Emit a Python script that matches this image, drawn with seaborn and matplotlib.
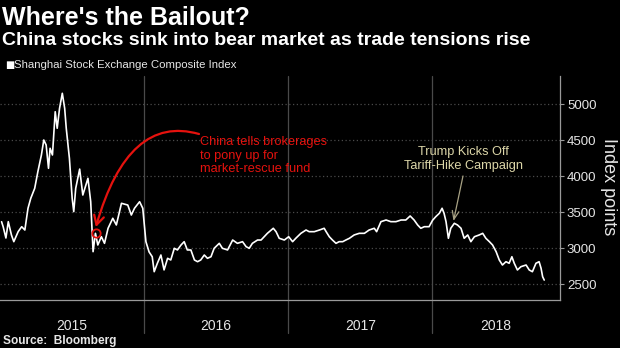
import matplotlib
matplotlib.use("Agg")
import matplotlib.pyplot as plt
import seaborn as sns
import pandas as pd

# ---------------- data ----------------
dates = [
    "2015-01-05", "2015-01-09", "2015-01-16", "2015-01-22", "2015-01-30", "2015-02-05",
    "2015-02-16", "2015-02-25", "2015-03-05", "2015-03-13", "2015-03-20", "2015-03-30",
    "2015-04-07", "2015-04-16", "2015-04-22", "2015-04-28", "2015-05-04", "2015-05-08",
    "2015-05-14", "2015-05-21", "2015-05-26", "2015-06-01", "2015-06-08", "2015-06-14",
    "2015-06-18", "2015-06-26", "2015-07-03", "2015-07-07", "2015-07-12", "2015-07-22",
    "2015-07-30", "2015-08-12", "2015-08-19", "2015-08-25", "2015-08-31", "2015-09-06",
    "2015-09-15", "2015-09-23", "2015-10-02", "2015-10-14", "2015-10-23", "2015-11-05",
    "2015-11-21", "2015-11-30", "2015-12-08", "2015-12-21", "2015-12-29", "2016-01-06",
    "2016-01-14", "2016-01-22", "2016-01-27", "2016-02-04", "2016-02-13", "2016-02-21",
    "2016-03-01", "2016-03-09", "2016-03-18", "2016-03-26", "2016-04-04", "2016-04-12",
    "2016-04-20", "2016-04-29", "2016-05-08", "2016-05-16", "2016-05-24", "2016-06-02",
    "2016-06-10", "2016-06-19", "2016-06-27", "2016-07-10", "2016-07-18", "2016-07-31",
    "2016-08-13", "2016-08-25", "2016-09-07", "2016-09-16", "2016-09-24", "2016-10-02",
    "2016-10-15", "2016-10-24", "2016-11-01", "2016-11-09", "2016-11-24", "2016-12-01",
    "2016-12-09", "2016-12-22", "2017-01-02", "2017-01-12", "2017-01-20", "2017-02-02",
    "2017-02-15", "2017-02-23", "2017-03-08", "2017-03-21", "2017-04-02", "2017-04-07",
    "2017-04-15", "2017-04-23", "2017-05-02", "2017-05-10", "2017-05-19", "2017-05-27",
    "2017-06-05", "2017-06-17", "2017-06-30", "2017-07-13", "2017-07-25", "2017-08-07",
    "2017-08-13", "2017-08-24", "2017-09-06", "2017-09-18", "2017-10-01", "2017-10-14",
    "2017-10-26", "2017-11-06", "2017-11-16", "2017-11-25", "2017-12-03", "2017-12-12",
    "2017-12-24", "2018-01-02", "2018-01-10", "2018-01-19", "2018-01-26", "2018-01-31",
    "2018-02-05", "2018-02-11", "2018-02-17", "2018-02-26", "2018-03-06", "2018-03-15",
    "2018-03-23", "2018-04-01", "2018-04-09", "2018-04-18", "2018-04-30", "2018-05-09",
    "2018-05-17", "2018-05-26", "2018-06-03", "2018-06-12", "2018-06-20", "2018-06-28",
    "2018-07-07", "2018-07-15", "2018-07-22", "2018-07-28", "2018-08-05", "2018-08-14",
    "2018-08-27", "2018-09-04", "2018-09-12", "2018-09-21", "2018-09-29", "2018-10-04",
    "2018-10-08", "2018-10-12",
]
values = [
    3369, 3300, 3143, 3370, 3185, 3092,
    3231, 3300, 3254, 3556, 3694, 3833,
    4064, 4296, 4504, 4435, 4111, 4389,
    4296, 4897, 4667, 4944, 5153, 4944,
    4667, 4250, 3694, 3509, 3833, 4100,
    3740, 3972, 3647, 2953, 3208, 3046,
    3162, 3069, 3278, 3417, 3324, 3625,
    3601, 3462, 3556, 3647, 3556, 3092,
    2950, 2883, 2675, 2792, 2907, 2700,
    2861, 2838, 3000, 2977, 3046, 3092,
    2977, 2977, 2838, 2814, 2838, 2907,
    2861, 2883, 3000, 3069, 3000, 2977,
    3115, 3069, 3092, 3023, 3000, 3069,
    3115, 3115, 3161, 3208, 3278, 3231,
    3139, 3115, 3161, 3092, 3139, 3208,
    3254, 3231, 3231, 3254, 3278, 3231,
    3161, 3115, 3069, 3092, 3092, 3115,
    3139, 3185, 3208, 3208, 3254, 3278,
    3231, 3370, 3393, 3370, 3370, 3393,
    3393, 3449, 3393, 3324, 3278, 3300,
    3300, 3390, 3439, 3486, 3556, 3486,
    3370, 3139, 3278, 3347, 3324, 3278,
    3139, 3185, 3092, 3161, 3185, 3208,
    3139, 3092, 3046, 2953, 2838, 2768,
    2814, 2792, 2883, 2792, 2699, 2745,
    2768, 2699, 2675, 2792, 2814, 2722,
    2605, 2559,
]
year_labels = ["2015", "2016", "2017", "2018"]
y_ticks = [2500, 3000, 3500, 4000, 4500, 5000]

event_rescue_date = "2015-09-01"
event_rescue_value = 3210
event_trump_date = "2018-02-24"
event_trump_value = 3380

title = "Where's the Bailout?"
subtitle = "China stocks sink into bear market as trade tensions rise"
legend_label = "Shanghai Stock Exchange Composite Index"
source = "Source:  Bloomberg"
rescue_text = "China tells brokerages\nto pony up for\nmarket-rescue fund"
trump_text = "Trump Kicks Off\nTariff-Hike Campaign"

# ---------------- style ----------------
sns.set_theme(style="dark")
plt.rcParams["font.family"] = ["Liberation Sans", "DejaVu Sans"]
plt.rcParams["axes.facecolor"] = "black"
plt.rcParams["figure.facecolor"] = "black"

W, H = 620, 348
RED = "#e5120e"
KHAKI = "#dcd6a8"
GRID = "#4a4a4a"
SPINE = "#9a9a9a"
TXT = "#e6e6e6"

fig = plt.figure(figsize=(W / 100, H / 100), dpi=100, facecolor="black")
ax = fig.add_axes([0, 1 - 300 / H, 560 / W, 224 / H])
ax.set_facecolor("black")

df = pd.DataFrame({"date": pd.to_datetime(dates), "value": values})
sns.lineplot(data=df, x="date", y="value", ax=ax, color="white", linewidth=1.2)

x0, x1 = pd.Timestamp("2015-01-01"), pd.Timestamp("2018-11-21")
ax.set_xlim(x0, x1)
ax.set_ylim(2282, 5393)

# grid: dotted horizontal lines
ax.set_yticks(y_ticks)
ax.yaxis.grid(True, linestyle=(0, (1, 2)), color=GRID, linewidth=0.9)
ax.xaxis.grid(False)

# year separators extending below the axis
for y in year_labels[1:]:
    ax.axvline(pd.Timestamp(f"{y}-01-01"), ymin=-0.147, ymax=1, color=GRID,
               linewidth=0.9, clip_on=False, zorder=0)

# quarter ticks (major, no labels) and year labels (minor, no tick marks)
qticks = [pd.Timestamp(f"{y}-{m:02d}-01") for y in year_labels for m in (1, 4, 7, 10)][1:]
ax.set_xticks(qticks)
ax.set_xticklabels([""] * len(qticks))
mids = []
for i, y in enumerate(year_labels):
    a = pd.Timestamp(f"{y}-01-01")
    b = pd.Timestamp(f"{int(y) + 1}-01-01") if i < len(year_labels) - 1 else x1
    mids.append(a + (b - a) / 2)
ax.set_xticks(mids, minor=True)
ax.set_xticklabels(year_labels, minor=True)
ax.tick_params(axis="x", which="major", length=3, width=0.8, color=SPINE, direction="out")
ax.tick_params(axis="x", which="minor", length=0, pad=14, labelsize=10, labelcolor=TXT)

ax.yaxis.tick_right()
ax.set_yticklabels([str(v) for v in y_ticks])
ax.tick_params(axis="y", length=3, width=0.8, color=SPINE, pad=2, labelsize=9.5, labelcolor=TXT)
ax.set_xlabel("")
ax.set_ylabel("")

for s in ("top", "left"):
    ax.spines[s].set_visible(False)
for s in ("bottom", "right"):
    ax.spines[s].set_visible(True)
    ax.spines[s].set_color(SPINE)
    ax.spines[s].set_linewidth(0.9)

# rescue event: circle + curved arrow
ax.plot([pd.Timestamp(event_rescue_date)], [event_rescue_value], marker="o", ms=6,
        mfc="none", mec=RED, mew=1.3, zorder=5)
ax.annotate("", xy=(pd.Timestamp(event_rescue_date), event_rescue_value + 85),
            xycoords="data", xytext=(199, H - 134), textcoords="figure pixels",
            arrowprops=dict(arrowstyle="->,head_length=0.55,head_width=0.3", color=RED, lw=1.6,
                            connectionstyle="angle3,angleA=164,angleB=74",
                            shrinkA=0, shrinkB=0))
fig.text(200 / W, 1 - 136 / H, rescue_text, color=RED, fontsize=9.2, ha="left", va="top",
         linespacing=1.18)

# trump event
ax.annotate("", xy=(pd.Timestamp(event_trump_date), event_trump_value), xycoords="data",
            xytext=(463, H - 176), textcoords="figure pixels",
            arrowprops=dict(arrowstyle="->,head_length=0.5,head_width=0.2", color="#a8a284",
                            lw=0.9, shrinkA=0, shrinkB=0))
fig.text(463 / W, 1 - 146 / H, trump_text, color=KHAKI, fontsize=9.2, ha="center", va="top",
         linespacing=1.18)

# y axis title on the right
fig.text(609 / W, 1 - 187 / H, "Index points", rotation=270, ha="center", va="center",
         fontsize=13, color=TXT)

# header texts
fig.text(2 / W, 1 - 25 / H, title, fontsize=18, weight="bold", color="white", va="baseline")
fig.text(2 / W, 1 - 45 / H, subtitle, fontsize=14, weight="bold", color="white", va="baseline")
fig.text(5 / W, 1 - 65 / H, "\u25A0", fontsize=7, color="white", va="center",
         family=["DejaVu Sans"])
fig.text(14 / W, 1 - 65 / H, legend_label, fontsize=8.2, color=TXT, va="center")
fig.text(3 / W, 1 - 341 / H, source, fontsize=8.6, weight="bold", color=TXT, va="center")

fig.savefig("out.png", dpi=100, facecolor="black")
